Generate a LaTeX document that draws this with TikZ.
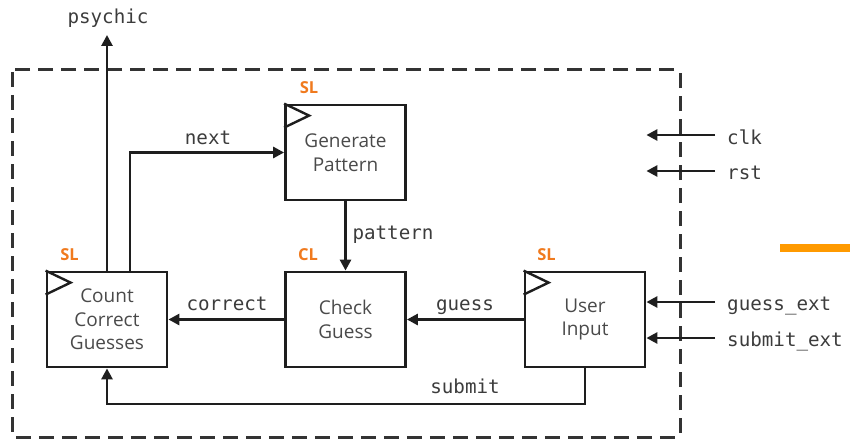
\documentclass[tikz,border=0pt]{standalone}
\usepackage{fontspec}
\setmainfont{Open Sans}
\newfontfamily\sigfont{DejaVu Sans Mono}
\usetikzlibrary{arrows.meta,calc}
\definecolor{tagorange}{HTML}{F07A1E}
\definecolor{barorange}{HTML}{FF9A00}
\definecolor{inkline}{HTML}{1E1E1E}
\definecolor{blocktext}{HTML}{4A4A4A}
\definecolor{sigtext}{HTML}{3C3C3C}

\begin{document}
\begin{tikzpicture}[x=1pt,y=-1pt,
  block/.style={draw=inkline, line width=2.8pt, minimum width=120pt,
    minimum height=95pt, align=center, text=blocktext,
    font=\fontsize{19}{23.5}\selectfont},
  wire/.style={draw=inkline, line width=2.8pt,
    -{Triangle[length=11pt,width=11pt]}},
  sig/.style={inner sep=0pt, text=sigtext, text height=11pt, text depth=3pt,
    font=\sigfont\fontsize{19.2}{21}\selectfont},
  tag/.style={inner sep=0pt, text=tagorange,
    font=\bfseries\fontsize{16.5}{18}\selectfont},
  clocktri/.style={draw=inkline, line width=2.4pt, line join=miter},
  boundary/.style={draw=black!80, line width=3pt,
    dash pattern=on 15pt off 8pt, rounded corners=2pt}]

\useasboundingbox (0,0) rectangle (850,441);

% module boundary
\draw[boundary] (12,70) rectangle (680,437);

% blocks
\node[block] (gen) at (345.5,152.5) {Generate\\Pattern};
\node[block] (cnt) at (107,319.5) {Count\\Correct\\Guesses};
\node[block] (chk) at (345.5,319.5) {Check\\Guess};
\node[block] (usr) at (585,319.5) {User\\Input};

% clock markers on the sequential blocks
\foreach \b in {gen,cnt,usr}
  \draw[clocktri] (\b.north west) -- ++(25,12) -- ++(-25,12);

% block kind tags
\node[tag] at ($(gen.north west)+(25,-16)$) {SL};
\node[tag] at ($(cnt.north west)+(24,-16)$) {SL};
\node[tag] at ($(chk.north west)+(24,-16)$) {CL};
\node[tag] at ($(usr.north west)+(23,-16)$) {SL};

% signal names
\node[sig] (psy) at (108,20) {psychic};
\node[sig] (nxt) at (208,140) {next};
\node[sig] (pat) at (393,235) {pattern};
\node[sig] (cor) at (227,306) {correct};
\node[sig] (gss) at (465,306) {guess};
\node[sig] (sub) at (465,389) {submit};
\node[sig, anchor=west] (clk) at (727,140) {clk};
\node[sig, anchor=west] (rst) at (727,175) {rst};
\node[sig, anchor=west] (gxt) at (727,306) {guess\_ext};
\node[sig, anchor=west] (sxt) at (727,342) {submit\_ext};

\coordinate (psyend) at (107,35);
\coordinate (subcorner) at (585,404);

% internal connections
\draw[wire] (cnt.north) -- (cnt.north |- psyend);
\draw[wire] ($(cnt.north)+(23,0)$) |- (gen.west);
\draw[wire] (gen.south) -- (chk.north);
\draw[wire] (chk.west) -- (cnt.east);
\draw[wire] (usr.west) -- (chk.east);
\draw[wire] (usr.south) -- (subcorner) -| (cnt.south);

% external inputs
\draw[wire] ($(clk.west)+(-12,-5)$) -- ($(clk.west -| usr.east)+(0,-5)$);
\draw[wire] ($(rst.west)+(-12,-4)$) -- ($(rst.west -| usr.east)+(0,-4)$);
\draw[wire] ($(gxt.west)+(-12,-4)$) -- ($(gxt.west -| usr.east)+(0,-4)$);
\draw[wire] ($(sxt.west)+(-12,-4)$) -- ($(sxt.west -| usr.east)+(0,-4)$);

% accent bar
\fill[barorange] (780,244) rectangle (850,252);
\end{tikzpicture}
\end{document}
